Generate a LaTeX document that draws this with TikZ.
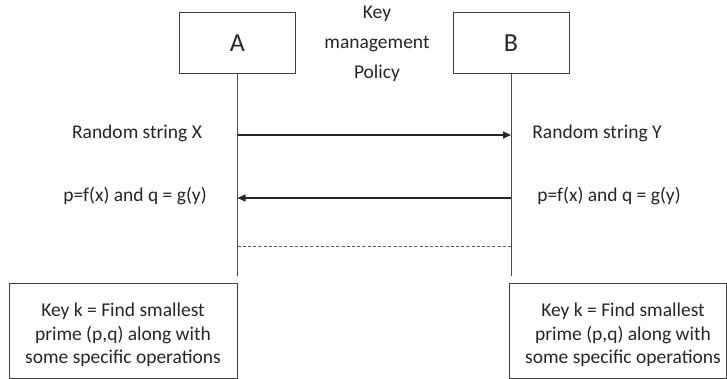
\documentclass[tikz,border=0pt]{standalone}
\usepackage{fontspec}
\setmainfont{Carlito}
\usetikzlibrary{arrows.meta}
\begin{document}
\begin{tikzpicture}[x=1pt,y=-1pt,
  every node/.style={font=\fontsize{19.5}{23.5}\selectfont, text=black!85},
  actor/.style={draw=black!75, line width=1pt, minimum width=116pt, minimum height=61pt, inner sep=0pt, font=\fontsize{26}{30}\selectfont},
  keybox/.style={draw=black!75, line width=1pt, inner sep=0pt, align=center},
  life/.style={draw=black!70, line width=0.9pt},
  msg/.style={draw=black!85, line width=1.4pt, -{Triangle[length=8pt,width=7pt]}},
  lbl/.style={inner sep=0pt}]
\useasboundingbox (0,0) rectangle (727,379);
\fill[white] (0,0) rectangle (727,379);
% actors
\node[actor] (A) at (237.5,43.5) {A};
\node[actor] (B) at (511,43.5) {B};
\node[lbl, align=center, font=\fontsize{19.5}{30}\selectfont] (pol) at (377,43.5) {Key\\management\\Policy};
% lifeline ends
\coordinate (Aend) at (237.5,276);
\coordinate (Bend) at (511,276);
\draw[life] (A.south) -- (Aend);
\draw[life] (B.south) -- (Bend);
% messages
\coordinate (A1) at (237.5,135);
\coordinate (B1) at (511,135);
\coordinate (A2) at (237.5,198);
\coordinate (B2) at (511,198);
\coordinate (A3) at (237.5,246);
\coordinate (B3) at (511,246);
\draw[msg] (A1) -- (B1);
\draw[msg] (B2) -- (A2);
\draw[life, draw=black!65, dash pattern=on 3pt off 2.2pt] (A3) -- (B3);
% labels
\node[lbl] (rx) at (137,133) {Random string X};
\node[lbl] (ry) at (597,133) {Random string Y};
\node[lbl] (pl) at (135,196) {p=f(x) and q = g(y)};
\node[lbl] (pr) at (609,196) {p=f(x) and q = g(y)};
% key boxes
\draw[keybox] (9,283) rectangle (237.5,378);
\draw[keybox] (509,283) rectangle (726,378);
\node[lbl, align=center] (kl) at (123,335) {Key k = Find smallest\\prime (p,q) along with\\some specific operations};
\node[lbl, align=center] (kr) at (623,335) {Key k = Find smallest\\prime (p,q) along with\\some specific operations};
\end{tikzpicture}
\end{document}
